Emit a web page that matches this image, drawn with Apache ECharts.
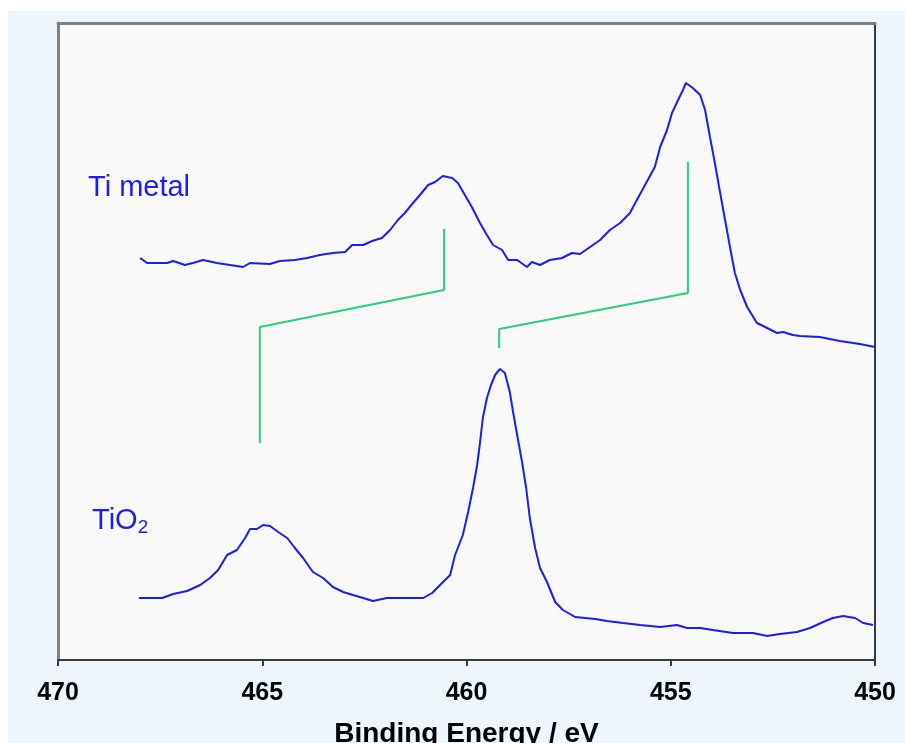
<!DOCTYPE html>
<html>
<head>
<meta charset="utf-8">
<script src="https://cdn.jsdelivr.net/npm/echarts@6/dist/echarts.min.js"></script>
<style>
html,body{margin:0;padding:0;background:#ffffff;width:905px;height:743px;overflow:hidden;}
#bg{position:absolute;left:8px;top:11px;right:0;bottom:0;background:#eef6fd;}
#chart{position:absolute;left:0;top:0;width:905px;height:743px;}
</style>
</head>
<body>
<div id="bg"></div>
<div id="chart"></div>
<script>
// Binding energy tick labels (eV)
var tickValues = [470, 465, 460, 455, 450];

// Ti metal spectrum (binding energy eV, intensity a.u.)
var tiMetalEnergy = [467.99,467.82,467.33,467.18,466.89,466.70,466.45,466.11,465.79,465.47,465.30,464.81,464.57,464.20,463.90,463.59,463.27,462.97,462.80,462.53,462.31,462.07,461.87,461.68,461.51,461.31,461.14,460.94,460.77,460.58,460.35,460.21,460.04,459.87,459.67,459.50,459.35,459.13,458.98,458.76,458.52,458.40,458.20,457.96,457.66,457.42,457.22,456.73,456.49,456.24,456.00,455.83,455.63,455.39,455.26,455.09,454.97,454.82,454.70,454.63,454.46,454.28,454.16,454.04,453.92,453.79,453.67,453.55,453.43,453.30,453.13,452.89,452.64,452.40,452.25,452.01,451.84,451.35,450.86,450.37,450.00];
var tiMetalCounts = [402,397,397,399,395,397,400,397,395,393,397,396,399,400,402,405,407,408,415,415,419,422,430,440,447,457,465,475,478,484,482,477,465,453,437,425,415,410,400,400,393,398,395,400,402,407,406,420,430,437,447,460,475,493,513,530,547,560,570,577,572,565,550,523,497,467,440,413,387,370,353,337,332,327,328,325,324,323,319,316,313];

// TiO2 spectrum (binding energy eV, intensity a.u.)
var tio2Energy = [468.02,467.45,467.18,466.84,466.52,466.28,466.08,465.86,465.62,465.42,465.30,465.13,464.98,464.81,464.61,464.39,464.20,464.00,463.76,463.51,463.27,463.02,462.78,462.53,462.29,461.95,461.63,461.31,461.06,460.84,460.60,460.40,460.28,460.09,459.96,459.84,459.74,459.67,459.60,459.50,459.40,459.30,459.18,459.06,458.94,458.86,458.76,458.64,458.54,458.45,458.32,458.20,458.03,457.83,457.64,457.34,456.85,456.56,456.17,455.75,455.26,454.85,454.60,454.28,453.97,453.48,452.99,452.64,452.33,451.91,451.59,451.27,451.03,450.78,450.49,450.29,450.05];
var tio2Counts = [62,62,66,69,75,82,90,105,110,122,131,131,135,134,128,122,112,102,88,82,73,68,65,62,59,62,62,62,62,67,77,85,105,125,148,172,195,217,242,262,275,285,291,287,268,248,225,198,172,142,112,92,78,58,50,43,41,39,37,35,33,35,32,32,30,27,27,24,26,28,32,38,42,44,42,37,35];

// Chemical shift markers (green)
var marker1Energy = [465.06, 465.06, 460.55, 460.55];
var marker1Level  = [217, 333, 370, 431];
var marker2Energy = [459.20, 459.20, 454.58, 454.58];
var marker2Level  = [312, 331, 367, 498];

function zip(a, b) { return a.map(function (v, i) { return [v, b[i]]; }); }

var blue = '#1c1cf6';
var green = '#2ccf7a';

var chart = echarts.init(document.getElementById('chart'), null, {renderer: 'canvas'});
chart.setOption({
  animation: false,
  backgroundColor: 'transparent',
  grid: {left: 58, right: 30, top: 23, bottom: 83, show: true, backgroundColor: '#f9f9f9', borderWidth: 0,
         containLabel: false, outerBoundsMode: 'none'},
  xAxis: [{
    type: 'value', position: 'bottom', inverse: true,
    min: tickValues[tickValues.length - 1], max: tickValues[0], interval: 5,
    name: 'Binding Energy / eV', nameLocation: 'middle', nameGap: 60,
    nameTextStyle: {fontFamily: 'Liberation Sans', fontWeight: 'bold', fontSize: 28, color: '#000'},
    axisLine: {show: true, onZero: false, lineStyle: {color: '#3a3a3a', width: 2}},
    axisTick: {show: true, length: 6, lineStyle: {color: '#3a3a3a', width: 2}},
    axisLabel: {margin: 21, fontFamily: 'Liberation Sans', fontWeight: 'bold', fontSize: 25, color: '#000'},
    splitLine: {show: false}
  }, {
    type: 'value', position: 'top', inverse: true,
    min: tickValues[tickValues.length - 1], max: tickValues[0],
    axisLine: {show: true, onZero: false, lineStyle: {color: '#808080', width: 3}},
    axisTick: {show: false}, axisLabel: {show: false}, splitLine: {show: false}
  }],
  yAxis: [{
    type: 'value', position: 'left', min: 0, max: 637,
    axisLine: {show: true, onZero: false, lineStyle: {color: '#808080', width: 3}},
    axisTick: {show: false}, axisLabel: {show: false}, splitLine: {show: false}
  }, {
    type: 'value', position: 'right', min: 0, max: 637,
    axisLine: {show: true, onZero: false, lineStyle: {color: '#3a3a3a', width: 2}},
    axisTick: {show: false}, axisLabel: {show: false}, splitLine: {show: false}
  }],
  series: [
    {type: 'line', name: 'Ti metal', data: zip(tiMetalEnergy, tiMetalCounts), showSymbol: false, lineStyle: {color: blue, width: 2}, itemStyle: {color: blue}},
    {type: 'line', name: 'TiO2', data: zip(tio2Energy, tio2Counts), showSymbol: false, lineStyle: {color: blue, width: 2}, itemStyle: {color: blue}},
    {type: 'line', name: 'shift1', data: zip(marker1Energy, marker1Level), showSymbol: false, lineStyle: {color: green, width: 2}, itemStyle: {color: green}},
    {type: 'line', name: 'shift2', data: zip(marker2Energy, marker2Level), showSymbol: false, lineStyle: {color: green, width: 2}, itemStyle: {color: green}}
  ],
  graphic: [
    {type: 'text', left: 88, top: 173, style: {text: 'Ti metal', fill: blue, font: '29px "Liberation Sans"'}},
    {type: 'text', left: 92, top: 506, style: {
      text: '{m|TiO}{s|2}', fill: blue,
      rich: {
        m: {fontFamily: 'Liberation Sans', fontSize: 29, color: blue},
        s: {fontFamily: 'Liberation Sans', fontSize: 19, color: blue, padding: [14, 0, 0, 0]}
      }
    }}
  ]
});
</script>
</body>
</html>
